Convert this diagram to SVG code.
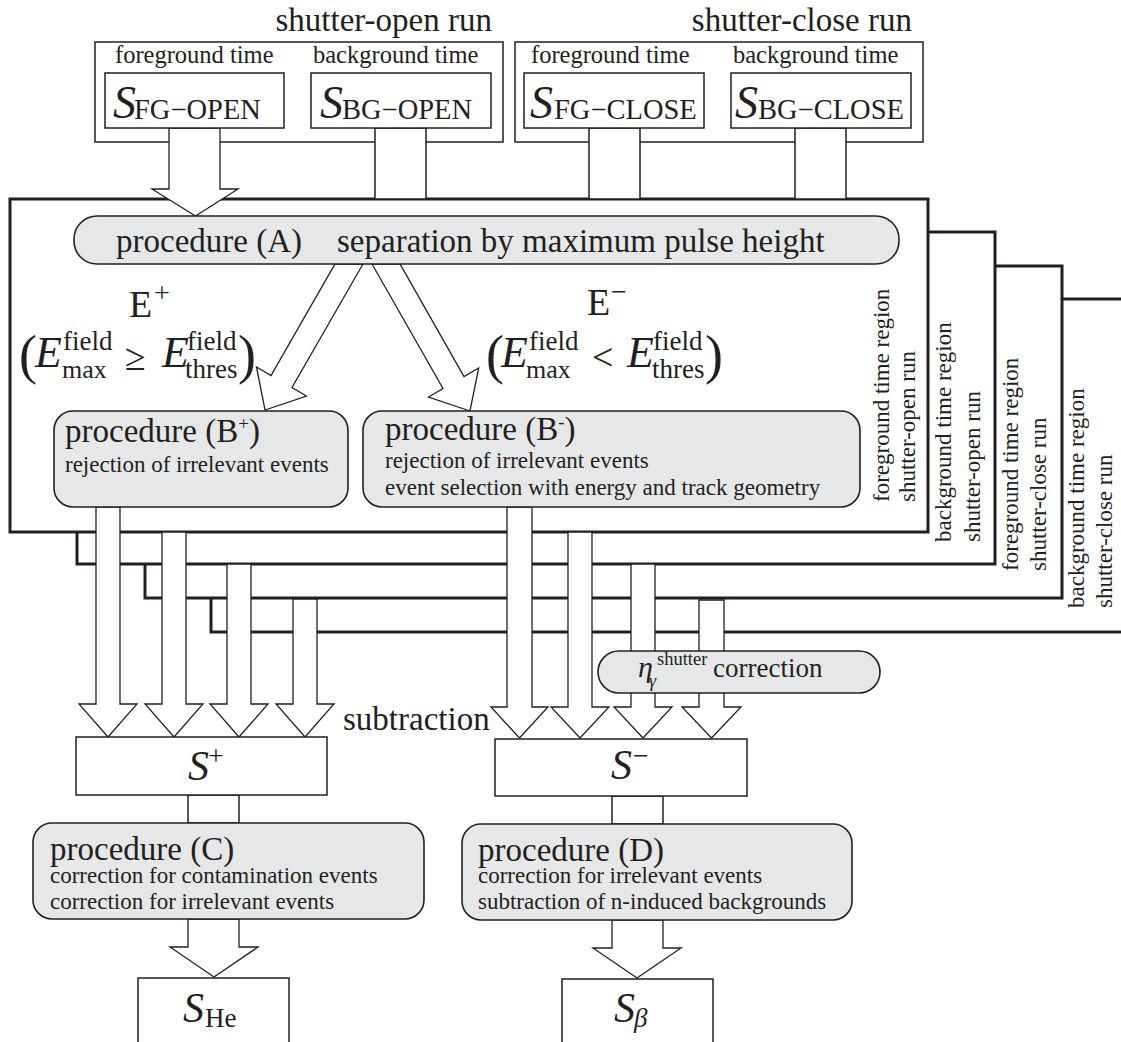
<svg xmlns="http://www.w3.org/2000/svg" width="1121" height="1042" viewBox="0 0 1121 1042" font-family="'Liberation Serif', Tinos, 'Times New Roman', Times, serif">
<style>
text{font-family:'Liberation Serif', Tinos, 'Times New Roman', Times, serif;fill:#231f20}
.it{font-style:italic}
.big{font-size:33px}
.sm{font-size:23px}
.lbl{font-size:24.5px}
.thin{fill:#fff;stroke:#231f20;stroke-width:1.5}
.thick{fill:#fff;stroke:#231f20;stroke-width:3}
.proc{fill:#e6e7e8;stroke:#231f20;stroke-width:1.6}
.arr{fill:#fff;stroke:#231f20;stroke-width:1.3;stroke-linejoin:miter}
</style>
<rect width="1121" height="1042" fill="#fff"/>

<!-- region boxes (stacked) -->
<g id="region-bg-close"><rect class="thick" x="211" y="299" width="930" height="333"/>
<text class="sm" transform="translate(1084,608) rotate(-90)">background time region</text>
<text class="sm" transform="translate(1112,608) rotate(-90)">shutter-close run</text></g>
<g id="region-fg-close"><rect class="thick" x="145" y="266" width="917" height="332"/>
<text class="sm" transform="translate(1018,571) rotate(-90)">foreground time region</text>
<text class="sm" transform="translate(1046,571) rotate(-90)">shutter-close run</text></g>
<g id="region-bg-open"><rect class="thick" x="77" y="232" width="918" height="332"/>
<text class="sm" transform="translate(951,542) rotate(-90)">background time region</text>
<text class="sm" transform="translate(980,542) rotate(-90)">shutter-open run</text></g>
<g id="region-fg-open"><rect class="thick" x="10" y="199" width="918" height="333"/>
<text class="sm" transform="translate(889,502) rotate(-90)">foreground time region</text>
<text class="sm" transform="translate(915,502) rotate(-90)">shutter-open run</text></g>

<!-- top run boxes -->
<g id="shutter-open-run">
<text class="big" x="492" y="31" text-anchor="end">shutter-open run</text>
<rect class="thin" x="95" y="42" width="408" height="100"/>
<text class="lbl" x="115" y="63">foreground time</text>
<text class="lbl" x="313" y="63">background time</text>
</g>
<g id="shutter-close-run">
<text class="big" x="912" y="31" text-anchor="end">shutter-close run</text>
<rect class="thin" x="515" y="42" width="408" height="100"/>
<text class="lbl" x="531" y="63">foreground time</text>
<text class="lbl" x="733" y="63">background time</text>
</g>

<!-- connectors -->
<g id="connectors">
<rect class="thin" x="375" y="128" width="51" height="71"/>
<rect class="thin" x="589" y="128" width="51" height="71"/>
<rect class="thin" x="795" y="128" width="51" height="71"/>
<polygon class="arr" points="169,128 220,128 220,189 238,189 195.5,216 152,189 169,189"/>
<polygon class="arr" points="335,264 363,264 292,387.5 306.5,396 265,410 256.5,367 271,375.5"/>
<polygon class="arr" points="372,264 400,264 464,376.5 478.7,368 470,411 428.5,397 443,388.5"/>
<polygon class="arr" points="96,507 120,507 120,704 137,704 108,737 79,704 96,704"/>
<polygon class="arr" points="162,532 186,532 186,704 203,704 174,737 145,704 162,704"/>
<polygon class="arr" points="227,564 251,564 251,704 268,704 239,737 210,704 227,704"/>
<polygon class="arr" points="293,599 317,599 317,704 334,704 305,737 276,704 293,704"/>
<polygon class="arr" points="507,507 532,507 532,707 548,707 519.5,738 491,707 507,707"/>
<polygon class="arr" points="568,532 592,532 592,707 609,707 580,738 551,707 568,707"/>
<polygon class="arr" points="631,564 655,564 655,707 672,707 643,738 614,707 631,707"/>
<polygon class="arr" points="699,600 724,600 724,707 741,707 711.5,738 682,707 699,707"/>
<rect class="thin" x="188" y="795" width="51" height="28"/>
<rect class="thin" x="612" y="796" width="51" height="28"/>
<polygon class="arr" points="188,919 239,919 239,947 258,947 214,977 170,947 188,947"/>
<polygon class="arr" points="612,920 663,920 663,948 681,948 637,978 593,948 612,948"/>
</g>

<g id="S-FG-OPEN"><rect class="thin" x="105" y="73" width="179" height="55"/>
<text class="it" x="113" y="118" font-size="46">S</text><text x="134" y="119" font-size="28.5">FG−OPEN</text></g>
<g id="S-BG-OPEN"><rect class="thin" x="311" y="73" width="180" height="55"/>
<text class="it" x="320" y="118" font-size="46">S</text><text x="342" y="119" font-size="28.5">BG−OPEN</text></g>
<g id="S-FG-CLOSE"><rect class="thin" x="524" y="73" width="180" height="55"/>
<text class="it" x="530" y="118" font-size="46">S</text><text x="554" y="119" font-size="28.5">FG−CLOSE</text></g>
<g id="S-BG-CLOSE"><rect class="thin" x="731" y="73" width="180" height="55"/>
<text class="it" x="735" y="118" font-size="46">S</text><text x="758" y="119" font-size="28.5">BG−CLOSE</text></g>

<g id="procedure-A"><rect class="proc" x="74" y="216" width="825" height="48" rx="23"/>
<text class="big" x="116" y="252">procedure (A)</text>
<text class="big" x="337" y="252">separation by maximum pulse height</text></g>

<g id="E-plus">
<text x="129" y="317" font-size="38">E</text><text x="154" y="302" font-size="28">+</text>
<text x="19" y="373" font-size="54">(</text>
<text class="it" x="35" y="367" font-size="44">E</text>
<text x="63" y="350" font-size="27">field</text><text x="62" y="378" font-size="26">max</text>
<text x="125" y="370" font-size="38">≥</text>
<text class="it" x="162" y="367" font-size="44">E</text>
<text x="187" y="350" font-size="27">field</text><text x="185" y="378" font-size="27">thres</text>
<text x="238" y="373" font-size="54">)</text>
</g>
<g id="E-minus">
<text x="587" y="315" font-size="38">E</text><text x="611" y="301" font-size="28">−</text>
<text x="486" y="373" font-size="54">(</text>
<text class="it" x="501" y="367" font-size="44">E</text>
<text x="529" y="350" font-size="27">field</text><text x="526" y="378" font-size="26">max</text>
<text x="592" y="370" font-size="38">&lt;</text>
<text class="it" x="627" y="367" font-size="44">E</text>
<text x="653" y="350" font-size="27">field</text><text x="652" y="378" font-size="27">thres</text>
<text x="705" y="373" font-size="54">)</text>
</g>

<g id="procedure-B-plus"><rect class="proc" x="54" y="411" width="294" height="96" rx="19"/>
<text class="big" x="65" y="442">procedure (B<tspan font-size="19" dy="-12">+</tspan><tspan dy="12">)</tspan></text>
<text class="sm" x="65" y="472">rejection of irrelevant events</text></g>
<g id="procedure-B-minus"><rect class="proc" x="363" y="411" width="497" height="96" rx="19"/>
<text class="big" x="385" y="440">procedure (B<tspan font-size="19" dy="-12">-</tspan><tspan dy="12">)</tspan></text>
<text class="sm" x="385" y="468">rejection of irrelevant events</text>
<text class="sm" x="385" y="495">event selection with energy and track geometry</text></g>

<g id="eta-correction"><rect class="proc" x="598" y="651" width="282" height="42" rx="21"/>
<text class="it" x="638" y="677" font-size="30">η</text>
<text class="it" x="649" y="687" font-size="18">γ</text>
<text x="657" y="665" font-size="18.5">shutter</text>
<text x="713" y="677" font-size="27">correction</text></g>

<g id="subtraction-label"><text class="big" x="343" y="730">subtraction</text></g>

<g id="S-plus"><rect class="thin" x="76" y="737" width="251" height="58"/>
<text class="it" x="188" y="780" font-size="42">S</text><text x="208" y="765" font-size="28">+</text></g>
<g id="S-minus"><rect class="thin" x="495" y="739" width="252" height="57"/>
<text class="it" x="611" y="779" font-size="42">S</text><text x="633" y="765" font-size="28">−</text></g>

<g id="procedure-C"><rect class="proc" x="33" y="823" width="391" height="96" rx="19"/>
<text class="big" x="50" y="860">procedure (C)</text>
<text class="sm" x="50" y="883">correction for contamination events</text>
<text class="sm" x="50" y="909">correction for irrelevant events</text></g>
<g id="procedure-D"><rect class="proc" x="462" y="824" width="390" height="96" rx="19"/>
<text class="big" x="478" y="861">procedure (D)</text>
<text class="sm" x="478" y="883">correction for irrelevant events</text>
<text class="sm" x="478" y="909">subtraction of n-induced backgrounds</text></g>

<g id="S-He"><rect class="thin" x="138" y="978" width="151" height="80"/>
<text class="it" x="183" y="1022" font-size="42">S</text><text x="205" y="1027" font-size="27">He</text></g>
<g id="S-beta"><rect class="thin" x="562" y="979" width="151" height="80"/>
<text class="it" x="614" y="1022" font-size="42">S</text><text class="it" x="634" y="1027" font-size="27">β</text></g>
</svg>
